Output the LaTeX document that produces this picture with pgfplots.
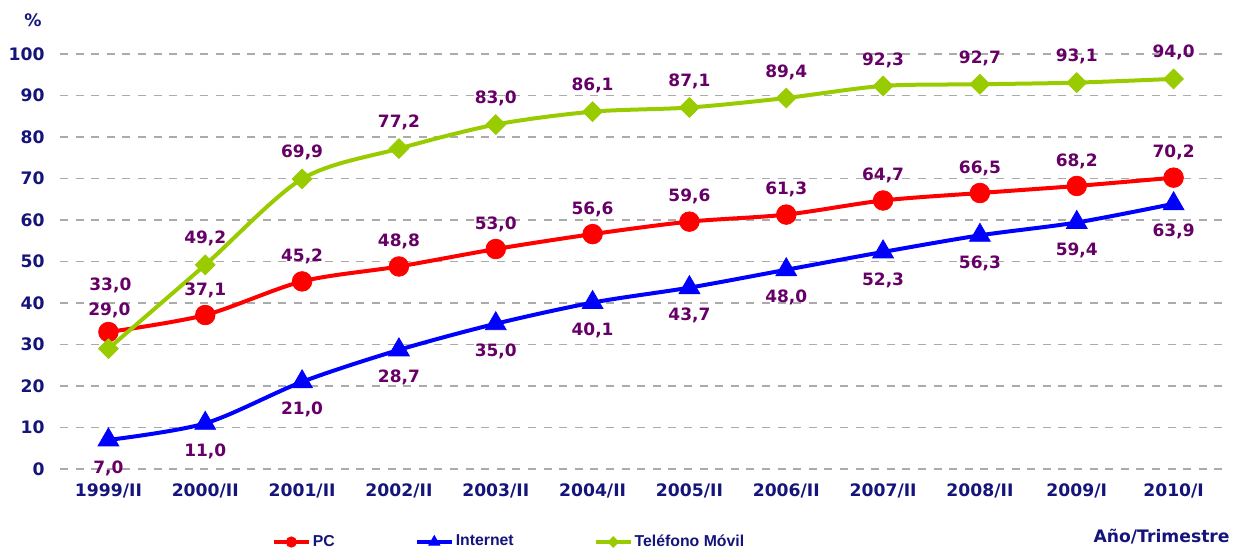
\documentclass[border=0pt]{standalone}
\usepackage{pgfplots}
\pgfplotsset{compat=1.18}
\usepackage{pgfplotstable}
\usepackage{fontspec}
\setmainfont{DejaVu Sans}
\newfontfamily\legfont{Liberation Sans}
\definecolor{navy}{HTML}{14147A}
\definecolor{lab}{HTML}{660066}
\definecolor{pcred}{HTML}{FF0000}
\definecolor{netblue}{HTML}{0000FF}
\definecolor{movgreen}{HTML}{99CC00}
\definecolor{gridgray}{HTML}{ABABAB}

\pgfplotstableread{
x pc pcl net netl mov movl
0 33.0 {} 7.0 7,0 29.0 {}
1 37.1 37,1 11.0 11,0 49.2 49,2
2 45.2 45,2 21.0 21,0 69.9 69,9
3 48.8 48,8 28.7 28,7 77.2 77,2
4 53.0 53,0 35.0 35,0 83.0 83,0
5 56.6 56,6 40.1 40,1 86.1 86,1
6 59.6 59,6 43.7 43,7 87.1 87,1
7 61.3 61,3 48.0 48,0 89.4 89,4
8 64.7 64,7 52.3 52,3 92.3 92,3
9 66.5 66,5 56.3 56,3 92.7 92,7
10 68.2 68,2 59.4 59,4 93.1 93,1
11 70.2 70,2 63.9 63,9 94.0 94,0
}\datatable

\tikzset{labstyle/.style={font=\fontsize{8.5}{9}\selectfont\bfseries, text=lab, inner sep=0pt, anchor=center}}

\begin{document}
\begin{tikzpicture}
\useasboundingbox (-30pt,-40pt) rectangle (588pt,234.5pt);
\begin{axis}[
  at={(0pt,0pt)}, anchor=south west,
  scale only axis, width=581pt, height=207.5pt,
  xmin=-0.5, xmax=11.5, ymin=0, ymax=100,
  clip=false,
  axis line style={draw=none}, tick style={draw=none},
  ytick={0,10,...,100},
  xtick={0,...,11},
  xticklabels={1999/II,2000/II,2001/II,2002/II,2003/II,2004/II,2005/II,2006/II,2007/II,2008/II,2009/I,2010/I},
  ymajorgrids,
  grid style={gridgray, dash pattern=on 4pt off 3.8pt, line width=0.6pt},
  /pgf/number format/assume math mode=true,
  tick label style={font=\fontsize{8.6}{10}\selectfont\bfseries, text=navy},
  yticklabel style={inner sep=0pt, anchor=east, xshift=-7.5pt},
  xticklabel style={inner sep=0pt, anchor=north, yshift=-7pt},
  legend style={at={(axis description cs:0.3864,-0.176)}, anchor=center,
    draw=none, fill=none, legend columns=3,
    font=\legfont\fontsize{7.9}{9}\selectfont\bfseries, text=navy,
    /tikz/every even column/.append style={column sep=39pt},
    nodes={inner sep=1pt}},
  legend image code/.code={\draw[mark repeat=2, mark phase=2, mark size=2.6pt] plot coordinates {(0pt,0pt) (8.75pt,0pt) (17.5pt,0pt)};},
  point meta=explicit symbolic,
]
\addplot[pcred, line width=2pt, smooth, tension=0.5, mark=*, mark size=4.9pt,
  mark options={solid, fill=pcred, draw=pcred, line width=0.4pt},
  nodes near coords, every node near coord/.append style={labstyle, yshift=12.5pt}]
  table[x=x, y=pc, meta=pcl]{\datatable};
\addlegendentry{PC}
\addplot[netblue, line width=2pt, smooth, tension=0.5, mark=triangle*, mark size=6pt,
  mark options={solid, fill=netblue, draw=netblue, line width=0.4pt},
  legend image code/.code={\draw[mark repeat=2, mark phase=2, mark size=3.2pt] plot coordinates {(0pt,0pt) (8.75pt,0pt) (17.5pt,0pt)};},
  nodes near coords, every node near coord/.append style={labstyle, yshift=-14pt}]
  table[x=x, y=net, meta=netl]{\datatable};
\addlegendentry{Internet}
\addplot[movgreen, line width=2pt, smooth, tension=0.5, mark=square*, mark size=3.5pt,
  mark options={solid, fill=movgreen, draw=movgreen, line width=0.4pt, rotate=45},
  nodes near coords, every node near coord/.append style={labstyle, yshift=13pt},
  legend image code/.code={\draw[mark repeat=2, mark phase=2, mark size=1.9pt] plot coordinates {(0pt,0pt) (8.75pt,0pt) (17.5pt,0pt)};}]
  table[x=x, y=mov, meta=movl]{\datatable};
\addlegendentry{Teléfono Móvil}
\node[labstyle] at (axis cs:0.02,44.3) {33,0};
\node[labstyle] at (axis cs:0.01,38.3) {29,0};
\end{axis}
\node[font=\fontsize{8.6}{10}\selectfont\bfseries, text=navy, anchor=center] at (-13.5pt,224.5pt) {\%};
\node[font=\fontsize{8.6}{10}\selectfont\bfseries, text=navy, anchor=east, inner sep=0pt] at (585pt,-34pt) {Año/Trimestre};
\end{tikzpicture}
\end{document}
